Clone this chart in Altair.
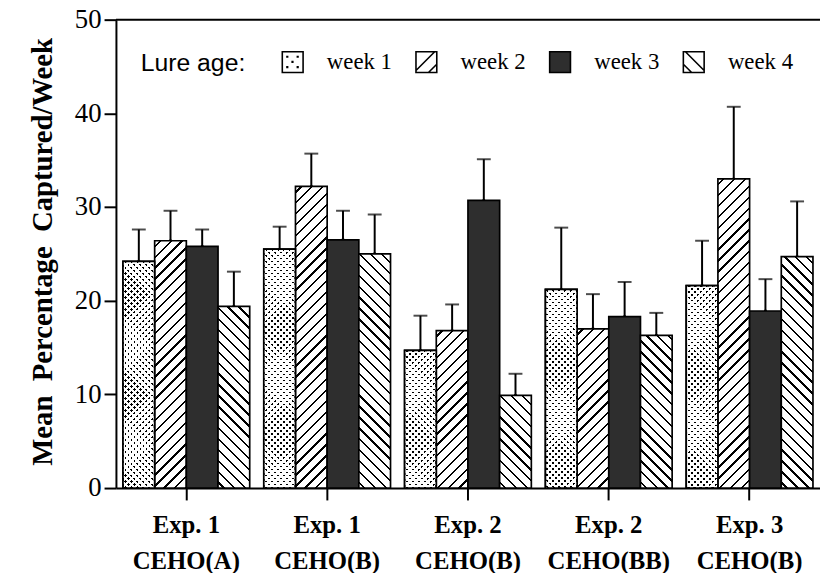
import altair as alt

# ---------------- data ----------------
groups = ["Exp. 1|CEHO(A)", "Exp. 1|CEHO(B)", "Exp. 2|CEHO(B)", "Exp. 2|CEHO(BB)", "Exp. 3|CEHO(B)"]
series = ["week 1", "week 2", "week 3", "week 4"]

mean_week1 = [24.2, 25.5, 14.7, 21.2, 21.6]
mean_week2 = [26.4, 32.2, 16.8, 17.0, 33.0]
mean_week3 = [25.8, 26.5, 30.7, 18.3, 18.9]
mean_week4 = [19.4, 25.0, 9.9, 16.3, 24.7]

# top of each error bar (mean + SE)
upper_week1 = [27.6, 27.9, 18.4, 27.8, 26.4]
upper_week2 = [29.6, 35.7, 19.6, 20.7, 40.7]
upper_week3 = [27.6, 29.6, 35.1, 22.0, 22.3]
upper_week4 = [23.1, 29.2, 12.2, 18.7, 30.6]

y_ticks = [0, 10, 20, 30, 40, 50]

# ---------------- layout / style ----------------
W, H = 711, 473
YMAX = 50
PAD_INNER, PAD_OUTER = 0.1, 0.05
BAR_W = W / (5 - PAD_INNER + 2 * PAD_OUTER) * (1 - PAD_INNER) / 4

SERIF = "Liberation Serif"
SANS = "Liberation Sans"
DARK = "#2e2e2e"


def stripes(h, pitch, lw, direction, bg, fg, phase):
    """Linear gradient with hard stops that draws 45-degree hatching on a bar of w x h px."""
    w = BAR_W
    D = (w * w + h * h) / w
    smax = w + h
    stops = [{"offset": 0, "color": bg}]
    c = phase
    while c - lw / 2 < smax:
        a = round(max(c - lw / 2, 0) / D, 5)
        b = round(min(c + lw / 2, smax) / D, 5)
        stops += [{"offset": a, "color": bg}, {"offset": a, "color": fg},
                  {"offset": b, "color": fg}, {"offset": b, "color": bg}]
        c += pitch
    stops.append({"offset": round(min(smax / D, 1), 5), "color": bg})
    r = round(h / w, 5)
    if direction == "/":
        return {"gradient": "linear", "x1": 0, "y1": 0, "x2": 1, "y2": r, "stops": stops}
    return {"gradient": "linear", "x1": 0, "y1": 1, "x2": 1, "y2": round(1 - r, 5), "stops": stops}


means = [mean_week1, mean_week2, mean_week3, mean_week4]
uppers = [upper_week1, upper_week2, upper_week3, upper_week4]

rows = []
for j, s in enumerate(series):
    for i, g in enumerate(groups):
        m = means[j][i]
        h = m / YMAX * H
        mask = None
        if s == "week 1":
            pat = stripes(h, 6, 2.5, "/", "#ffffff", "#000000", 3)
            mask = stripes(h, 6, 2.5, "\\", "#ffffff", "rgba(255,255,255,0)", 3)
        elif s == "week 2":
            pat = stripes(h, 11, 2.4, "/", "#ffffff", "#000000", 6)
        elif s == "week 3":
            pat = DARK
        else:
            pat = stripes(h, 11, 2.4, "\\", "#ffffff", "#000000", 6)
        row = {"group": g, "series": s, "mean": m, "upper": uppers[j][i], "pattern": pat}
        if mask is not None:
            row["mask"] = mask
        rows.append(row)

data = alt.Data(values=rows)

# legend swatch shapes
sq = "M-1,-1L1,-1L1,1L-1,1Z"
dot_pts = [(-0.55, -0.55), (0.45, -0.55), (-0.05, -0.05), (-0.55, 0.45), (0.45, 0.45)]
dots = " ".join(f"M{x},{y}h0.06v0.06h-0.06Z" for x, y in dot_pts)
legend_shapes = [
    sq + " " + dots,
    sq + " M-1,0.8L0.8,-1 M0.2,1L1,0.2",
    sq,
    sq + " M-0.8,-1L1,0.8 M-1,0.2L-0.2,1",
]
legend_fills = ["#ffffff", "#ffffff", DARK, "#ffffff"]

x_enc = alt.X(
    "group:N",
    sort=groups,
    scale=alt.Scale(domain=groups, paddingInner=PAD_INNER, paddingOuter=PAD_OUTER),
    axis=alt.Axis(
        title=None,
        labelExpr="split(datum.label, '|')",
        labelFont=SERIF, labelFontWeight="bold", labelFontSize=25,
        labelLineHeight=36, labelColor="black", labelAngle=0,
        labelPadding=13, labelLimit=0,
        tickSize=12, tickWidth=2, tickColor="black",
        domainColor="black", domainWidth=2,
    ),
)
xo_enc = alt.XOffset("series:N", scale=alt.Scale(domain=series, paddingInner=0, paddingOuter=0))
y_scale = alt.Scale(domain=[0, YMAX], nice=False, zero=True)
y_axis = alt.Axis(
    title="Mean\u00a0\u00a0Percentage\u00a0\u00a0Captured/Week",
    titleFont=SERIF, titleFontWeight="bold", titleFontSize=29, titleColor="black",
    titleX=-74, titleY=234, titleAngle=270, titleAlign="center", titleBaseline="middle",
    values=y_ticks, labelFont=SERIF, labelFontSize=27, labelColor="black",
    labelPadding=3, tickSize=12, tickWidth=2, tickColor="black",
    domainColor="black", domainWidth=2, grid=False,
)

legend = alt.Legend(
    title="Lure age:", orient="none", legendX=25, legendY=31, direction="horizontal",
    titleOrient="left", titleFont=SANS, titleFontSize=25, titleFontWeight="normal",
    titleColor="black", titlePadding=36, titleBaseline="middle", titleAnchor="middle",
    labelFont=SERIF, labelFontSize=23, labelColor="black", labelOffset=23,
    columnPadding=20, symbolSize=441, symbolStrokeWidth=1.6, symbolOpacity=1, padding=0,
)

legend_layer = alt.Chart().mark_point(filled=True, size=1, opacity=1, stroke="black", strokeWidth=1.6).encode(
    x=x_enc, xOffset=xo_enc,
    y=alt.Y("mean:Q", scale=y_scale, axis=y_axis),
    color=alt.Color("series:N", scale=alt.Scale(domain=series, range=legend_fills), legend=legend),
    shape=alt.Shape("series:N", scale=alt.Scale(domain=series, range=legend_shapes), legend=legend),
)

bars = alt.Chart().mark_bar(stroke="black", strokeWidth=1.7).encode(
    x=x_enc, xOffset=xo_enc,
    y=alt.Y("mean:Q", scale=y_scale, axis=y_axis, stack=None),
    fill=alt.Fill("pattern:N", scale=None),
)

dot_mask = alt.Chart().mark_bar(stroke="black", strokeWidth=1.7).encode(
    x=x_enc, xOffset=xo_enc,
    y=alt.Y("mean:Q", scale=y_scale, stack=None),
    fill=alt.Fill("mask:N", scale=None),
).transform_filter(alt.datum.series == "week 1")

err_line = alt.Chart().mark_rule(color="black", strokeWidth=2).encode(
    x=x_enc, xOffset=xo_enc,
    y=alt.Y("mean:Q", scale=y_scale), y2="upper:Q",
)

err_cap = alt.Chart().mark_tick(color="black", thickness=2, size=14).encode(
    x=x_enc, xOffset=xo_enc,
    y=alt.Y("upper:Q", scale=y_scale),
)

top_line = alt.Chart(alt.Data(values=[{"v": YMAX}])).mark_rule(color="black", strokeWidth=2).encode(
    y=alt.Y("v:Q", scale=y_scale)
)

chart = alt.layer(
    legend_layer, bars, dot_mask, err_line, err_cap, top_line, data=data
).properties(
    width=W, height=H,
    autosize=alt.AutoSizeParams(type="none"),
    padding={"left": 109, "top": 9, "right": 0, "bottom": 83},
    background="white",
).configure_view(stroke=None)

chart.save("out.html", embed_options={"renderer": "svg", "actions": False})
